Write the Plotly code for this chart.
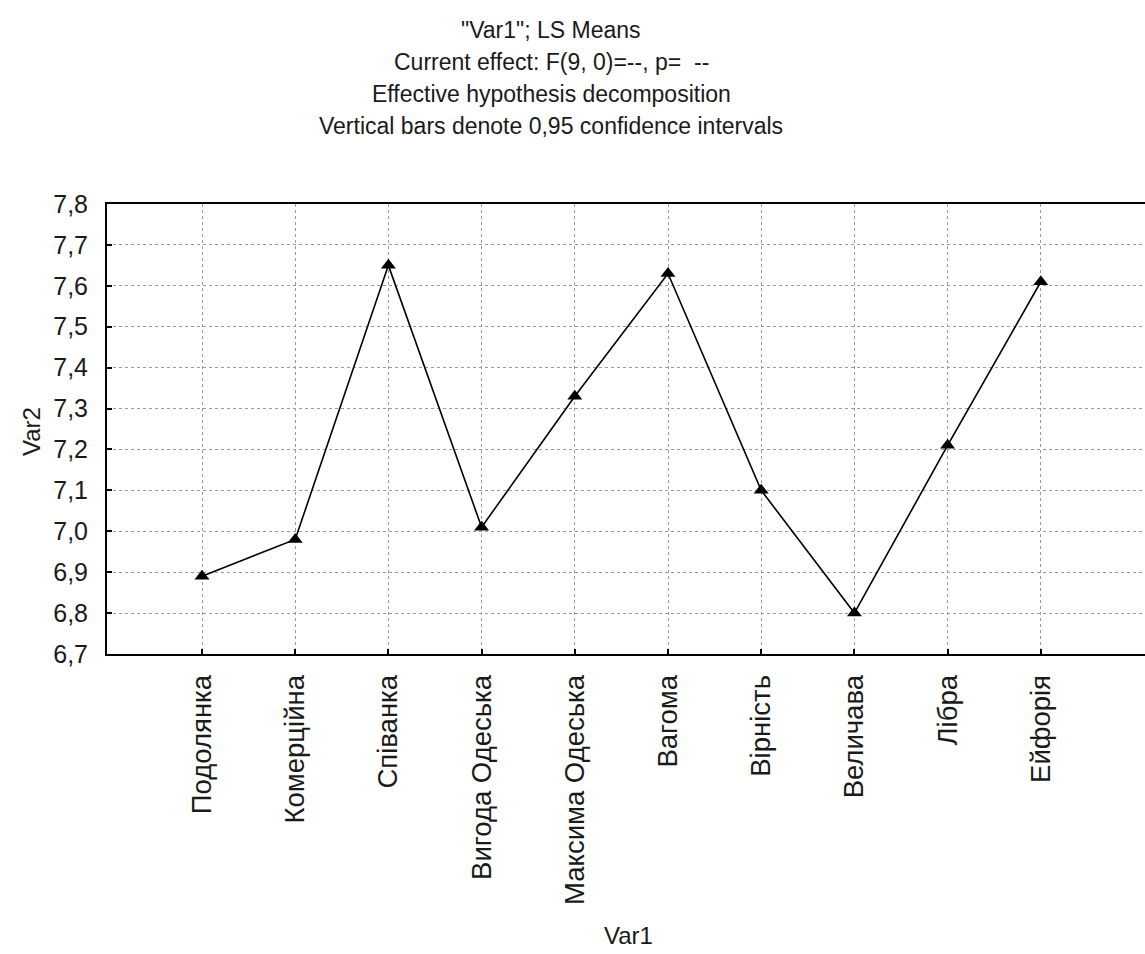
import plotly.graph_objects as go

categories = ["Подолянка", "Комерційна", "Співанка", "Вигода Одеська", "Максима Одеська",
              "Вагома", "Вірність", "Величава", "Лібра", "Ейфорія"]
means = [6.89, 6.98, 7.65, 7.01, 7.33, 7.63, 7.10, 6.80, 7.21, 7.61]
y_ticks = [6.7, 6.8, 6.9, 7.0, 7.1, 7.2, 7.3, 7.4, 7.5, 7.6, 7.7, 7.8]
y_tick_labels = ["6,7", "6,8", "6,9", "7,0", "7,1", "7,2", "7,3", "7,4", "7,5", "7,6", "7,7", "7,8"]
title_lines = ['"Var1"; LS Means', "Current effect: F(9, 0)=--, p=  --",
               "Effective hypothesis decomposition", "Vertical bars denote 0,95 confidence intervals"]

REG = "Liberation Sans, Arial, sans-serif"
TXT = "#1a1a1a"

xs = list(range(len(categories)))

fig = go.Figure()
fig.add_trace(go.Scatter(
    x=xs, y=means, mode="lines+markers",
    line=dict(color="black", width=1.6),
    marker=dict(symbol="triangle-up", size=13, color="black"),
    showlegend=False, hoverinfo="skip"))

# figure is a bit wider than the window so the plot area runs off the right edge,
# as in the reference (body overflow is hidden)
W, H = 1165, 954
L, T, B = 107, 204, 654
pw = W - L
ph = B - T
CAT_STEP = 93.2      # pixels per category
FIRST_CAT = 202      # pixel of first category
x_range = [(L - FIRST_CAT) / CAT_STEP, (W - FIRST_CAT) / CAT_STEP]

def px(xp):
    return (xp - L) / pw

def py(yp):
    return (B - yp) / ph

annotations = []
for i, line in enumerate(title_lines):
    annotations.append(dict(text=line, x=px(551), y=py(30 + 32 * i), xref="paper", yref="paper",
                            xanchor="center", yanchor="middle", showarrow=False,
                            font=dict(family=REG, size=23, color=TXT)))
annotations.append(dict(text="Var2", x=px(31), y=py(432), xref="paper", yref="paper",
                        xanchor="center", yanchor="middle", textangle=-90, showarrow=False,
                        font=dict(family=REG, size=24, color=TXT)))
annotations.append(dict(text="Var1", x=px(628), y=py(935), xref="paper", yref="paper",
                        xanchor="center", yanchor="middle", showarrow=False,
                        font=dict(family=REG, size=24, color=TXT)))

fig.update_layout(
    width=W, height=H,
    margin=dict(l=L, r=0, t=T, b=H - B, pad=0),
    paper_bgcolor="white", plot_bgcolor="white",
    annotations=annotations,
    xaxis=dict(range=x_range, tickmode="array", tickvals=xs, ticktext=categories,
               tickangle=-90, ticks="inside", ticklen=5, tickcolor="black", tickwidth=1.5,
               showline=True, linecolor="black", linewidth=2, mirror=True,
               showgrid=True, gridcolor="#9a9a9a", griddash="dot", gridwidth=1,
               zeroline=False, ticklabelstandoff=8,
               tickfont=dict(family=REG, size=27.5, color=TXT)),
    yaxis=dict(range=[6.7, 7.8], tickmode="array", tickvals=y_ticks, ticktext=y_tick_labels,
               ticks="inside", ticklen=5, tickcolor="black", tickwidth=1.5,
               showline=True, linecolor="black", linewidth=2, mirror=False,
               showgrid=True, gridcolor="#9a9a9a", griddash="dot", gridwidth=1,
               zeroline=False, ticklabelstandoff=12,
               tickfont=dict(family=REG, size=25, color=TXT)),
)

fig.write_html("out.html", config={"displayModeBar": False},
               post_script="document.body.style.margin='0';document.body.style.overflow='hidden';")
